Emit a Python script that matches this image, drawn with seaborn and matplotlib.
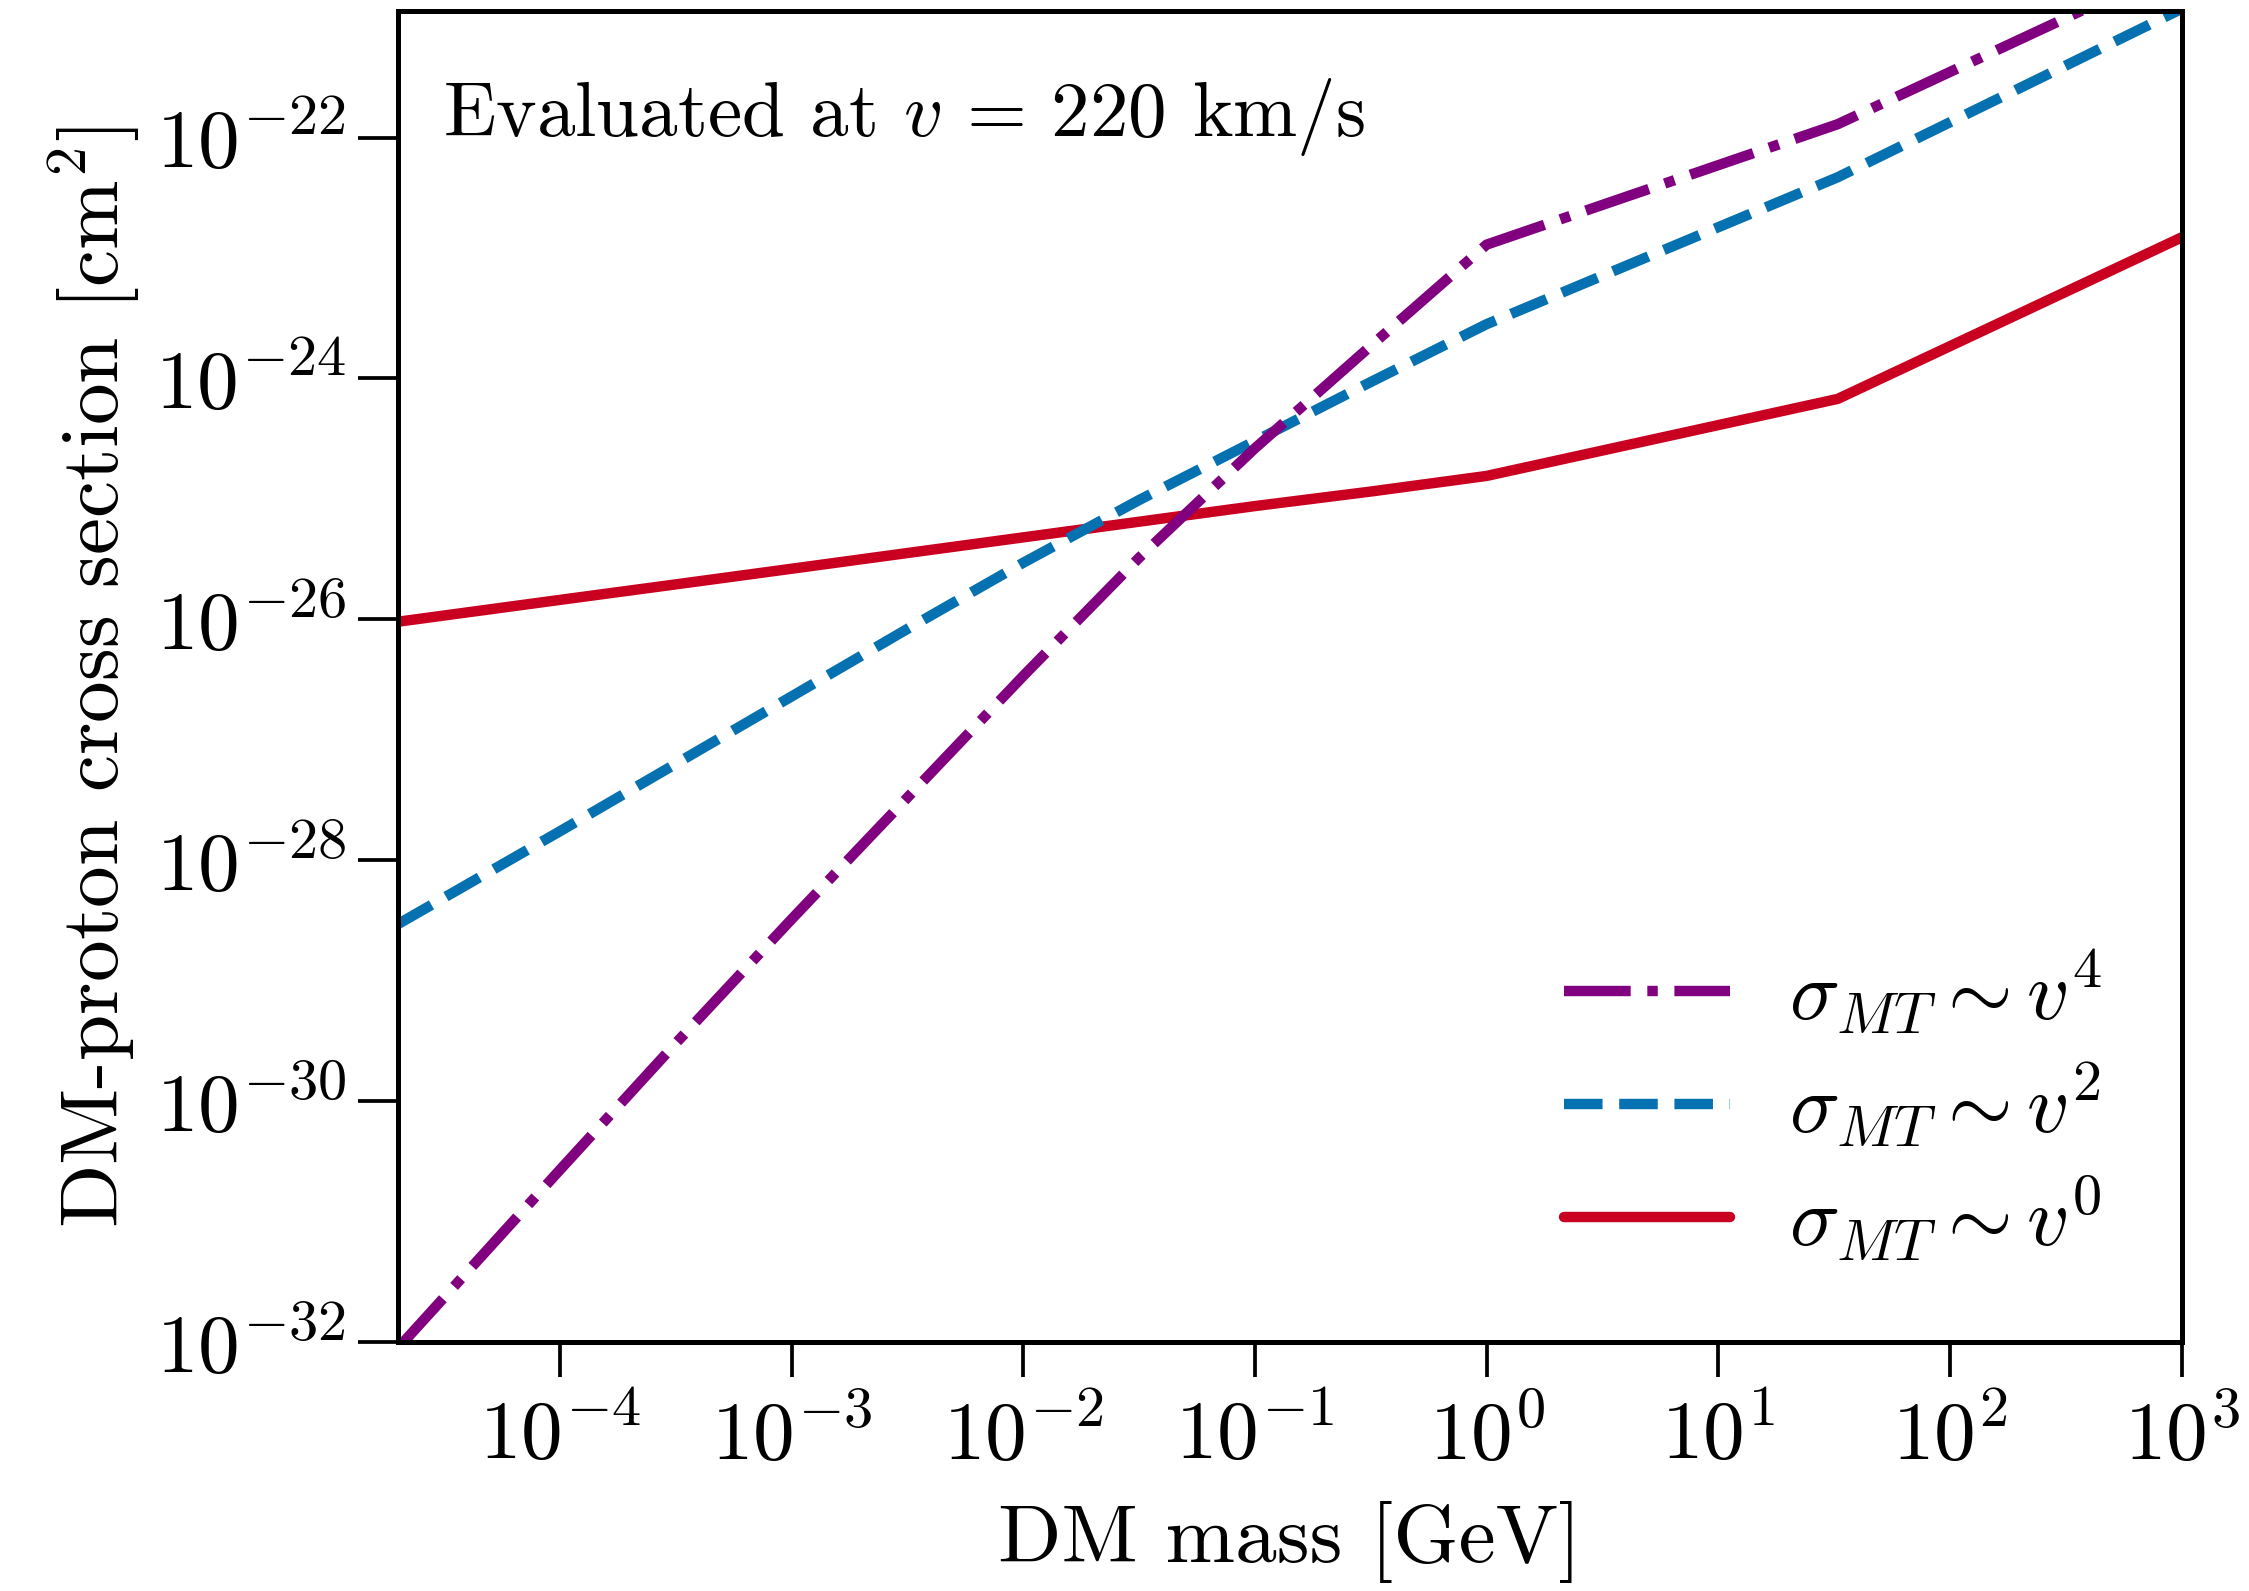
import matplotlib
matplotlib.use("Agg")
import matplotlib.pyplot as plt
import seaborn as sns
import numpy as np

# ---- data ----
mass_gev = [2e-5, 1e-4, 3.16e-4, 1e-3, 3.16e-3, 1e-2, 3.16e-2, 1e-1, 0.316, 1.0, 32.8, 1e3]
sigma_v4 = [8.9e-33, 2.69e-31, 3.02e-30, 3.24e-29, 3.31e-28, 3.39e-27, 3.24e-26,
            2.63e-25, 1.86e-24, 1.29e-23, 1.29e-22, 2.75e-21]
sigma_v2 = [2.95e-29, 1.74e-28, 6.31e-28, 2.29e-27, 8.32e-27, 2.95e-26, 9.77e-26,
            3.02e-25, 9.33e-25, 2.82e-24, 4.68e-23, 1.17e-21]
sigma_v0 = [9.55e-27, 1.45e-26, 1.95e-26, 2.63e-26, 3.55e-26, 4.79e-26, 6.46e-26,
            8.71e-26, 1.15e-25, 1.55e-25, 6.76e-25, 1.48e-23]

labels = [r"$\sigma_{MT} \sim v^4$", r"$\sigma_{MT} \sim v^2$", r"$\sigma_{MT} \sim v^0$"]
colors = ["#800080", "#0571b0", "#ca0020"]
xticks = [1e-4, 1e-3, 1e-2, 1e-1, 1e0, 1e1, 1e2, 1e3]
yticks = [1e-32, 1e-30, 1e-28, 1e-26, 1e-24, 1e-22]

sns.set_style("ticks")
plt.rcParams.update({
    "font.family": "cmr10",
    "mathtext.fontset": "cm",
    "axes.formatter.use_mathtext": True,
    "font.size": 20,
    "text.color": "black",
    "axes.labelcolor": "black",
    "axes.linewidth": 1.2,
    "xtick.major.width": 0.9,
    "ytick.major.width": 0.9,
    "xtick.major.size": 8.5,
    "ytick.major.size": 9.5,
    "xtick.direction": "out",
    "ytick.direction": "out",
    "xtick.color": "black",
    "ytick.color": "black",
    "xtick.labelcolor": "black",
    "ytick.labelcolor": "black",
    "axes.edgecolor": "black",
})

fig = plt.figure(figsize=(2249 / 300, 1591 / 300), dpi=300)
ax = fig.add_axes([0.177, 0.1565, 0.793, 0.8365])

lw = 2.5
sns.lineplot(x=mass_gev, y=sigma_v0, ax=ax, color=colors[2], lw=lw,
             linestyle="-", label=labels[2], sort=False)
sns.lineplot(x=mass_gev, y=sigma_v2, ax=ax, color=colors[1], lw=lw,
             linestyle="--", label=labels[1], sort=False)
sns.lineplot(x=mass_gev, y=sigma_v4, ax=ax, color=colors[0], lw=lw,
             linestyle="-.", label=labels[0], sort=False)

ax.set_xscale("log")
ax.set_yscale("log")
ax.set_xlim(2e-5, 1e3)
ax.set_ylim(1e-32, 1.12e-21)
ax.set_xticks(xticks)
ax.set_yticks(yticks)
ax.minorticks_off()
ax.tick_params(axis="both", which="major", labelsize=20, top=False, right=False,
               colors="black")
ax.tick_params(axis="x", pad=5)
ax.tick_params(axis="y", pad=3)

ax.set_xlabel(r"DM mass [GeV]", fontsize=20, labelpad=6, color="black")
ax.set_ylabel(r"DM-proton cross section [cm$^2$]", fontsize=20, labelpad=3,
              color="black")

for s in ax.spines.values():
    s.set_visible(True)
    s.set_linewidth(1.2)
    s.set_color("black")

ax.text(0.025, 0.906, r"Evaluated at $v\,=\,220$ km/s", transform=ax.transAxes,
        fontsize=18.5, ha="left", va="baseline", color="black")

handles, labs = ax.get_legend_handles_labels()
order = [2, 1, 0]
leg = ax.legend([handles[i] for i in order], [labs[i] for i in order],
                loc="lower right", bbox_to_anchor=(0.997, 0.003), frameon=False,
                fontsize=20, handlelength=2.0, handletextpad=0.7,
                labelspacing=0.29)
for t in leg.get_texts():
    t.set_color("black")

fig.savefig("out.png", dpi=300)
